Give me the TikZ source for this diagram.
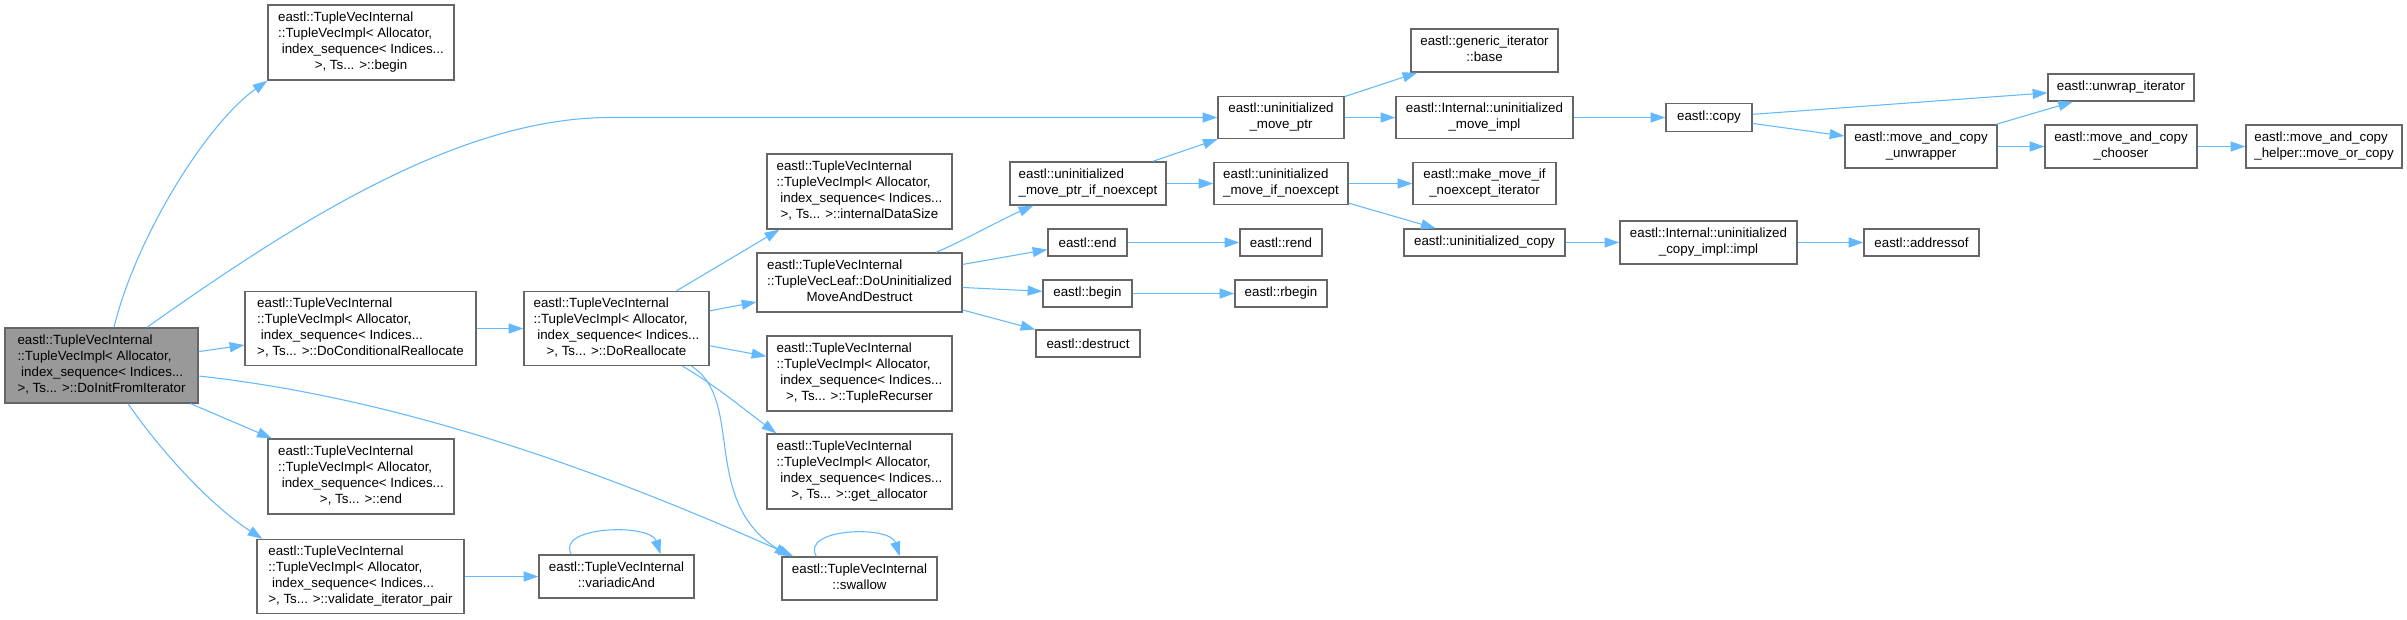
\documentclass[tikz,border=0pt]{standalone}
\usepackage{fontspec}
\setmainfont{Liberation Sans}
\usetikzlibrary{arrows.meta}
\definecolor{edgec}{HTML}{63B8FF}
\definecolor{boxc}{HTML}{666666}
\definecolor{rootc}{HTML}{999999}
\newcommand\TL[1]{\begin{tabular}{@{}l@{}}#1\end{tabular}}
\newcommand\LC[1]{\multicolumn{1}{@{}c@{}}{#1}}
\begin{document}
\begin{tikzpicture}[x=0.75pt,y=-0.75pt,
 box/.style={draw=boxc,line width=1pt,fill=white,inner sep=0pt,font=\fontsize{10}{12}\selectfont,text=black},
 sz/.style 2 args={minimum width=#1*0.75pt,minimum height=#2*0.75pt},
 edg/.style={draw=edgec,line width=0.8pt,-{Triangle[length=11pt,width=7.5pt]}}]
\useasboundingbox (0,0) rectangle (2407,619);
% column 0
\node[box,sz={193}{75},fill=rootc] (root) at (101.5,365.5) {\TL{eastl::TupleVecInternal\\::TupleVecImpl< Allocator,\\\ index\_sequence< Indices...\\\LC{>, Ts... >::DoInitFromIterator}}};
% column 1
\node[box,sz={186}{75}] (tvib) at (361,42.5) {\TL{eastl::TupleVecInternal\\::TupleVecImpl< Allocator,\\\ index\_sequence< Indices...\\\LC{>, Ts... >::begin}}};
\node[box,sz={231}{74}] (dcr) at (360.5,328.5) {\TL{eastl::TupleVecInternal\\::TupleVecImpl< Allocator,\\\ index\_sequence< Indices...\\\LC{>, Ts... >::DoConditionalReallocate}}};
\node[box,sz={186}{75}] (tvie) at (361,476.5) {\TL{eastl::TupleVecInternal\\::TupleVecImpl< Allocator,\\\ index\_sequence< Indices...\\\LC{>, Ts... >::end}}};
\node[box,sz={207}{74}] (val) at (360.5,576.5) {\TL{eastl::TupleVecInternal\\::TupleVecImpl< Allocator,\\\ index\_sequence< Indices...\\\LC{>, Ts... >::validate\_iterator\_pair}}};
% column 2
\node[box,sz={185}{74}] (dr) at (616.5,328.5) {\TL{eastl::TupleVecInternal\\::TupleVecImpl< Allocator,\\\ index\_sequence< Indices...\\\LC{>, Ts... >::DoReallocate}}};
\node[box,sz={155}{43}] (va) at (616.5,576.5) {\TL{eastl::TupleVecInternal\\\LC{::variadicAnd}}};
% column 3
\node[box,sz={185}{75}] (ids) at (859.5,191.5) {\TL{eastl::TupleVecInternal\\::TupleVecImpl< Allocator,\\\ index\_sequence< Indices...\\\LC{>, Ts... >::internalDataSize}}};
\node[box,sz={205}{59}] (dum) at (859.5,282.5) {\TL{eastl::TupleVecInternal\\::TupleVecLeaf::DoUninitialized\\\LC{MoveAndDestruct}}};
\node[box,sz={185}{75}] (tr) at (859.5,373.5) {\TL{eastl::TupleVecInternal\\::TupleVecImpl< Allocator,\\\ index\_sequence< Indices...\\\LC{>, Ts... >::TupleRecurser}}};
\node[box,sz={185}{75}] (ga) at (859.5,471.5) {\TL{eastl::TupleVecInternal\\::TupleVecImpl< Allocator,\\\ index\_sequence< Indices...\\\LC{>, Ts... >::get\_allocator}}};
\node[box,sz={155}{43}] (sw) at (859.5,578.5) {\TL{eastl::TupleVecInternal\\\LC{::swallow}}};
% column 4
\node[box,sz={156}{43}] (umpin) at (1088,183.5) {\TL{eastl::uninitialized\\\LC{\_move\_ptr\_if\_noexcept}}};
\node[box,sz={79}{27}] (eend) at (1087.5,242.5) {eastl::end};
\node[box,sz={89}{27}] (ebegin) at (1087.5,293.5) {eastl::begin};
\node[box,sz={104}{27}] (destr) at (1088,343.5) {eastl::destruct};
% column 5
\node[box,sz={126}{42}] (umptr) at (1281,117.5) {\TL{eastl::uninitialized\\\LC{\_move\_ptr}}};
\node[box,sz={134}{42}] (umin) at (1281,183.5) {\TL{eastl::uninitialized\\\LC{\_move\_if\_noexcept}}};
\node[box,sz={82}{27}] (rend) at (1281,242.5) {eastl::rend};
\node[box,sz={92}{27}] (rbegin) at (1281,293.5) {eastl::rbegin};
% column 6
\node[box,sz={147}{43}] (gib) at (1484.5,50.5) {\TL{eastl::generic\_iterator\\\LC{::base}}};
\node[box,sz={177}{42}] (umi) at (1484.5,117.5) {\TL{eastl::Internal::uninitialized\\\LC{\_move\_impl}}};
\node[box,sz={143}{42}] (mmi) at (1484.5,183.5) {\TL{eastl::make\_move\_if\\\LC{\_noexcept\_iterator}}};
\node[box,sz={161}{27}] (ucopy) at (1484.5,242.5) {eastl::uninitialized\_copy};
% column 7
\node[box,sz={86}{28}] (copy) at (1709,117.5) {eastl::copy};
\node[box,sz={177}{43}] (impl) at (1708.5,242.5) {\TL{eastl::Internal::uninitialized\\\LC{\_copy\_impl::impl}}};
% column 8
\node[box,sz={152}{43}] (mcu) at (1921,146.5) {\TL{eastl::move\_and\_copy\\\LC{\_unwrapper}}};
\node[box,sz={115}{27}] (addr) at (1921.5,242.5) {eastl::addressof};
% column 9
\node[box,sz={146}{27}] (unwrap) at (2121,87.5) {eastl::unwrap\_iterator};
\node[box,sz={152}{43}] (chooser) at (2121,146.5) {\TL{eastl::move\_and\_copy\\\LC{\_chooser}}};
% column 10
\node[box,sz={156}{43}] (helper) at (2324,146.5) {\TL{eastl::move\_and\_copy\\\LC{\_helper::move\_or\_copy}}};
% edges from root
\draw[edg] ([shift={(12.5,0)}]root.north) .. controls (135,240) and (205,125) .. (tvib.south west);
\draw[edg] ([shift={(45.5,0)}]root.north) .. controls (297,221) and (460,117.5) .. (610,117.5) -- (umptr.west);
\draw[edg] (root) -- (dcr);
\draw[edg] ([shift={(0,10.5)}]root.east) .. controls (400,398) and (600,470) .. ([shift={(12,0)}]sw.north west);
\draw[edg] (root) -- (tvie);
\draw[edg] ([shift={(26.5,0)}]root.south) .. controls (160,450) and (210,505) .. ([shift={(6,0)}]val.north west);
% column 1 -> 2
\draw[edg] (dcr) -- (dr);
\draw[edg] (val) -- (va);
\draw[edg] ([shift={(33,0)}]va.north west) .. controls (555,526) and (650,523) .. ([shift={(-34,0)}]va.north east);
% from DoReallocate
\draw[edg] ([shift={(60,0)}]dr.north) -- ([shift={(13,0)}]ids.south west);
\draw[edg] (dr) -- (dum);
\draw[edg] (dr) -- (tr);
\draw[edg] ([shift={(66,0)}]dr.south) .. controls (715,385) and (745,410) .. ([shift={(10,0)}]ga.north west);
\draw[edg] ([shift={(75,0)}]dr.south) .. controls (745,400) and (700,500) .. ([shift={(8,0)}]sw.north west);
\draw[edg] ([shift={(35,0)}]sw.north west) .. controls (800,528) and (890,525) .. ([shift={(-38,0)}]sw.north east);
% from DoUninitializedMoveAndDestruct
\draw[edg] ([shift={(76.5,0)}]dum.north) .. controls (965,240) and (1000,220) .. ([shift={(24,0)}]umpin.south west);
\draw[edg] (dum) -- (eend);
\draw[edg] (dum) -- (ebegin);
\draw[edg] (dum) -- (destr);
% column 4 -> 5
\draw[edg] (umpin) -- (umptr);
\draw[edg] (umpin) -- (umin);
\draw[edg] (eend) -- (rend);
\draw[edg] (ebegin) -- (rbegin);
% column 5 -> 6
\draw[edg] (umptr) -- (gib);
\draw[edg] (umptr) -- (umi);
\draw[edg] (umin) -- (mmi);
\draw[edg] (umin) -- (ucopy);
% rest
\draw[edg] (umi) -- (copy);
\draw[edg] (ucopy) -- (impl);
\draw[edg] (impl) -- (addr);
\draw[edg] (copy) -- (unwrap);
\draw[edg] (copy) -- (mcu);
\draw[edg] (mcu) -- (unwrap);
\draw[edg] (mcu) -- (chooser);
\draw[edg] (chooser) -- (helper);
\end{tikzpicture}
\end{document}
